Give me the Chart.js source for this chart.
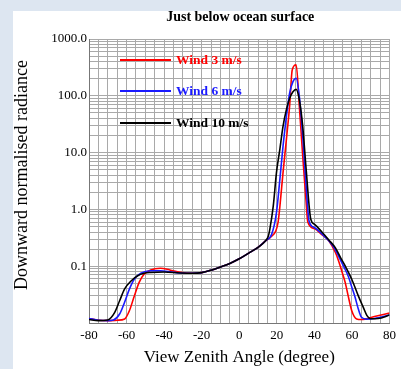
<!DOCTYPE html>
<html lang="en">
<head>
  <meta charset="UTF-8" />
  <title>Just below ocean surface</title>
  <script src="https://cdn.jsdelivr.net/npm/chart.js"></script>
  <style>
    body {
      margin: 0;
      background: #dde6f1;
    }
    #wrap {
      width: 401px;
      height: 369px;
      position: relative;
    }
  </style>
</head>
<body>
  <div id="wrap">
    <canvas id="grafico"></canvas>
  </div>

  <script>
    // view zenith angle (deg) and downward normalised radiance, per wind speed
    const angles3 = [-80, -75, -70, -65, -61, -58.5, -56, -53.3, -50.7, -47.2, -42, -37, -31.5, -25, -20, -15, -10, -5, 0, 5, 10, 14, 17, 19.5, 20.7, 21.6, 23.3, 25.1, 26.8, 28.2, 30.3, 32, 33.8, 35.5, 36.5, 40, 44, 47.7, 51.2, 52.9, 54.7, 56.4, 58, 59.9, 62.5, 65, 72, 80];
    const wind3 = [0.012, 0.0112, 0.011, 0.0112, 0.0118, 0.0164, 0.029, 0.052, 0.072, 0.086, 0.092, 0.086, 0.078, 0.075, 0.077, 0.085, 0.097, 0.112, 0.135, 0.17, 0.215, 0.28, 0.33, 0.42, 0.6, 1.1, 4.4, 17, 65, 285, 350, 65, 8.6, 1.5, 0.6, 0.46, 0.36, 0.28, 0.174, 0.124, 0.08, 0.052, 0.03, 0.0165, 0.0118, 0.0115, 0.013, 0.015];

    const angles6 = [-80, -75, -70, -67, -63.7, -61.1, -58.5, -55.9, -52.4, -47.2, -42, -36, -31.5, -25, -20, -15, -10, -5, 0, 5, 10, 14, 17.2, 19.8, 21.6, 23.3, 25.1, 26.8, 28.6, 30.3, 32, 33.8, 35.5, 37.2, 40, 44, 47.7, 51.2, 52.9, 55.5, 58.1, 59.9, 61.6, 63.4, 65.1, 67.7, 72, 80];
    const wind6 = [0.012, 0.0112, 0.011, 0.0113, 0.0144, 0.023, 0.0395, 0.059, 0.075, 0.083, 0.083, 0.079, 0.076, 0.075, 0.077, 0.085, 0.097, 0.112, 0.135, 0.17, 0.215, 0.28, 0.36, 0.87, 3.3, 12.9, 43, 110, 178, 204, 97, 19.4, 2.9, 0.62, 0.48, 0.37, 0.28, 0.195, 0.15, 0.1, 0.066, 0.043, 0.029, 0.0176, 0.0126, 0.0117, 0.012, 0.0138];

    const angles10 = [-80, -75, -70, -66.3, -63.7, -61.1, -57.6, -54.1, -50.7, -47.2, -40, -31.5, -25, -20, -15, -10, -5, 0, 5, 10, 14, 15.5, 16.3, 18.1, 19.8, 21.6, 23.3, 25.1, 26.8, 28.6, 30.3, 32, 33.8, 35.5, 38.1, 40, 44, 47.7, 51.2, 54, 56.4, 59.9, 63.4, 66, 68, 70, 74, 80];
    const wind10 = [0.0115, 0.011, 0.0113, 0.0154, 0.0246, 0.0395, 0.055, 0.068, 0.075, 0.0775, 0.079, 0.076, 0.075, 0.077, 0.085, 0.097, 0.112, 0.135, 0.17, 0.215, 0.28, 0.34, 0.45, 1.14, 4.4, 11.3, 29, 57, 90, 118, 130, 85, 29, 5.7, 0.67, 0.55, 0.4, 0.29, 0.21, 0.14, 0.101, 0.059, 0.03, 0.019, 0.0135, 0.0119, 0.012, 0.0138];

    const legendas = ["Wind 3 m/s", "Wind 6 m/s", "Wind 10 m/s"];
    const cores = ["#ff0000", "#1a1aff", "#000000"];

    const serif = "'Liberation Serif', 'Times New Roman', serif";

    function pontos(xs, ys) {
      return xs.map((x, i) => ({ x: x, y: ys[i] }));
    }

    // panel background, titles and the in-plot legend
    const moldura = {
      id: "moldura",
      beforeDraw(chart) {
        const ctx = chart.ctx;
        ctx.save();
        ctx.fillStyle = "#dde6f1";
        ctx.fillRect(0, 0, chart.width, chart.height);
        ctx.fillStyle = "#ffffff";
        ctx.fillRect(13, 11, chart.width - 13, chart.height - 11);
        ctx.restore();
      },
      afterDraw(chart) {
        const ctx = chart.ctx;
        const area = chart.chartArea;
        const cx = (area.left + area.right) / 2;
        ctx.save();
        ctx.fillStyle = "#000";
        ctx.textAlign = "center";
        ctx.textBaseline = "middle";
        ctx.font = "bold 14px " + serif;
        ctx.fillText("Just below ocean surface", cx + 1, 17);
        ctx.font = "17px " + serif;
        ctx.fillText("View Zenith Angle (degree)", cx, 358);
        ctx.font = "18px " + serif;
        ctx.translate(22, 175);
        ctx.rotate(-Math.PI / 2);
        ctx.fillText("Downward normalised radiance", 0, 0);
        ctx.restore();

        ctx.save();
        const ys = [60, 91, 123];
        ctx.font = "bold 13.5px " + serif;
        ctx.textAlign = "left";
        ctx.textBaseline = "middle";
        legendas.forEach((txt, i) => {
          ctx.strokeStyle = cores[i];
          ctx.lineWidth = 2;
          ctx.beginPath();
          ctx.moveTo(120, ys[i]);
          ctx.lineTo(171, ys[i]);
          ctx.stroke();
          ctx.fillStyle = cores[i];
          ctx.fillText(txt, 176, ys[i] + 1);
        });
        ctx.restore();
      }
    };

    function serie(label, xs, ys, cor, ordem) {
      return {
        label: label,
        data: pontos(xs, ys),
        borderColor: cor,
        borderWidth: 1.6,
        pointRadius: 0,
        cubicInterpolationMode: "monotone",
        order: ordem
      };
    }

    new Chart(document.getElementById("grafico"), {
      type: "line",
      data: {
        datasets: [
          serie(legendas[2], angles10, wind10, cores[2], 0),
          serie(legendas[1], angles6, wind6, cores[1], 1),
          serie(legendas[0], angles3, wind3, cores[0], 2)
        ]
      },
      options: {
        responsive: true,
        maintainAspectRatio: false,
        animation: false,
        layout: { padding: { left: 0, top: 39, right: 5, bottom: 0 } },
        plugins: {
          legend: { display: false },
          title: { display: false },
          tooltip: { enabled: false }
        },
        scales: {
          x: {
            type: "linear",
            min: -80,
            max: 80,
            afterFit(scale) { scale.height = 46; },
            ticks: {
              stepSize: 5,
              autoSkip: false,
              maxRotation: 0,
              padding: 5,
              color: "#000",
              font: { family: serif, size: 13 },
              callback: (v) => (v % 20 === 0 ? String(v) : "")
            },
            grid: { color: "#a9a9a9", lineWidth: 1, drawTicks: false },
            border: { color: "#777" }
          },
          y: {
            type: "logarithmic",
            min: 0.01,
            max: 1000,
            afterFit(scale) { scale.width = 89; },
            afterBuildTicks(scale) {
              const t = [];
              for (let e = -2; e <= 2; e++) {
                for (let m = 1; m <= 9; m++) t.push({ value: m * Math.pow(10, e) });
              }
              t.push({ value: 1000 });
              scale.ticks = t;
            },
            ticks: {
              autoSkip: false,
              padding: 2,
              color: "#000",
              font: { family: serif, size: 13 },
              callback: (v) => {
                const l = Math.log10(v);
                if (Math.abs(l - Math.round(l)) > 1e-6 || l < -1.5) return "";
                return v.toFixed(1);
              }
            },
            grid: { color: "#a9a9a9", lineWidth: 1, drawTicks: false },
            border: { color: "#777" }
          }
        }
      },
      plugins: [moldura]
    });
  </script>
</body>
</html>
